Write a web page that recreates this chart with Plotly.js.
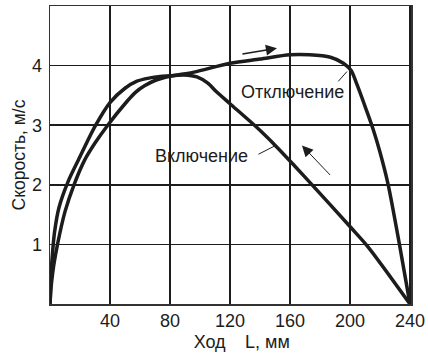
<!DOCTYPE html>
<html>
<head>
<meta charset="utf-8">
<script src="https://cdn.plot.ly/plotly-3.0.1.min.js"></script>
<style>html,body{margin:0;padding:0;background:#fff;}#chart{width:428px;height:355px;}</style>
</head>
<body>
<div id="chart"></div>
<script>
// Curve "Включение" (closing)
const onX = [0, 0.5, 1.5, 3, 6, 12, 19, 30, 40, 50, 58, 66, 75, 85, 92, 98, 105, 111, 120, 138, 151, 163, 174, 200, 212, 240];
const onY = [0, 0.4, 0.8, 1.2, 1.62, 2.05, 2.42, 2.98, 3.38, 3.62, 3.74, 3.79, 3.82, 3.84, 3.84, 3.81, 3.71, 3.56, 3.36, 2.96, 2.64, 2.32, 2.02, 1.3, 0.96, 0];
// Curve "Отключение" (opening)
const offX = [0, 1, 2.5, 5, 10, 16, 23, 30, 38.5, 50, 57, 63, 70, 80, 96, 120, 140, 160, 173, 187, 195.6, 200.7, 204.4, 211, 215.6, 220, 225.5, 233, 240];
const offY = [0, 0.35, 0.65, 1.0, 1.55, 2.0, 2.41, 2.7, 3.0, 3.36, 3.55, 3.66, 3.75, 3.82, 3.89, 4.04, 4.11, 4.18, 4.18, 4.14, 4.04, 3.92, 3.70, 3.25, 2.92, 2.55, 2.0, 1.0, 0];

const xTicks = [40, 80, 120, 160, 200, 240];
const yTicks = [1, 2, 3, 4];

const labelOn = {text: 'Включение', x: 101, y: 2.48, lineFrom: [138, 2.50], lineTo: [149.7, 2.65]};
const labelOff = {text: 'Отключение', x: 161.7, y: 3.56, lineFrom: [191.3, 3.71], lineTo: [198, 3.90]};
const arrowOff = {from: [127.3, 4.19], to: [151.3, 4.29]};
const arrowOn = {from: [187.7, 2.14], to: [168, 2.66]};

const FONT = 'Liberation Sans, Arial, sans-serif';
const INK = '#1c1c1c';

const traces = [
  {x: onX, y: onY, mode: 'lines', line: {color: INK, width: 3.5, shape: 'spline', smoothing: 0.8}, name: 'Включение', hoverinfo: 'skip'},
  {x: offX, y: offY, mode: 'lines', line: {color: INK, width: 3.5, shape: 'spline', smoothing: 0.8}, name: 'Отключение', hoverinfo: 'skip'}
];

function leader(l) {
  return {x: l.lineTo[0], y: l.lineTo[1], ax: l.lineFrom[0], ay: l.lineFrom[1], axref: 'x', ayref: 'y', xref: 'x', yref: 'y',
    text: '', showarrow: true, arrowhead: 0, arrowwidth: 1, arrowcolor: INK, standoff: 0, startstandoff: 0};
}
function arrow(a, w) {
  return {x: a.to[0], y: a.to[1], ax: a.from[0], ay: a.from[1], axref: 'x', ayref: 'y', xref: 'x', yref: 'y',
    text: '', showarrow: true, arrowhead: 2, arrowsize: 2.2 / w, arrowwidth: w, arrowcolor: INK};
}

const layout = {
  width: 428, height: 355,
  margin: {l: 50, r: 17, t: 6, b: 51, pad: 0},
  paper_bgcolor: '#fff', plot_bgcolor: '#fff',
  showlegend: false,
  font: {family: FONT, size: 18, color: INK},
  xaxis: {
    range: [0, 240.7], tickvals: xTicks, ticktext: xTicks.map(String),
    showgrid: true, gridcolor: INK, gridwidth: 1.5,
    showline: true, linecolor: '#333', linewidth: 1.5, mirror: true,
    zeroline: false, ticks: '', ticklabelstandoff: 0,
    tickfont: {family: FONT, size: 18, color: INK},
    title: {text: '\u200b\u2003\u2005Ход\u2003\u200aL, мм', font: {family: FONT, size: 18, color: INK}, standoff: 5}
  },
  yaxis: {
    range: [0, 5], tickvals: yTicks, ticktext: yTicks.map(String),
    showgrid: true, gridcolor: INK, gridwidth: 1.5,
    showline: true, linecolor: '#333', linewidth: 1.5, mirror: true,
    zeroline: false, ticks: '', ticklabelstandoff: 3,
    tickfont: {family: FONT, size: 18, color: INK},
    title: {text: 'Скорость, м/с', font: {family: FONT, size: 17.5, color: INK}, standoff: 2}
  },
  annotations: [
    {x: labelOn.x, y: labelOn.y, xref: 'x', yref: 'y', text: labelOn.text, showarrow: false, font: {family: FONT, size: 18, color: INK}},
    {x: labelOff.x, y: labelOff.y, xref: 'x', yref: 'y', text: labelOff.text, showarrow: false, font: {family: FONT, size: 18, color: INK}},
    leader(labelOn), leader(labelOff),
    arrow(arrowOff, 1.5), arrow(arrowOn, 1)
  ]
};

Plotly.newPlot('chart', traces, layout, {staticPlot: true, displayModeBar: false});
</script>
</body>
</html>
